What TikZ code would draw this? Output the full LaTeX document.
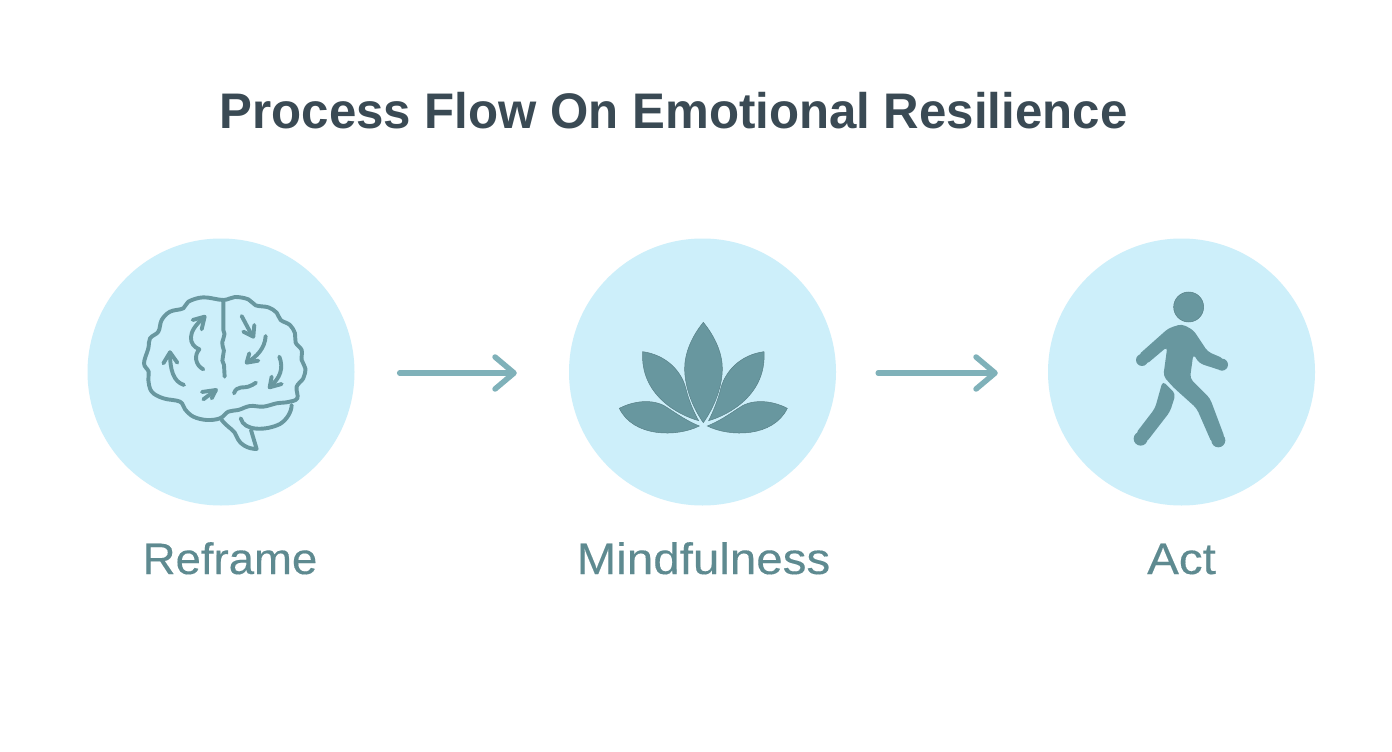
\documentclass[tikz,border=0pt]{standalone}
\usepackage{fontspec}
\setmainfont{Liberation Sans}
\newfontfamily\labelfont[FakeStretch=1.08,FakeBold=0.25]{Liberation Sans}
\newfontfamily\labelfontnarrow[FakeStretch=1.035,FakeBold=0.25]{Liberation Sans}
\newfontfamily\titlefont[FakeStretch=0.984]{Liberation Sans Bold}
\usetikzlibrary{arrows.meta}
\definecolor{disc}{HTML}{CDEFFA}
\definecolor{icon}{HTML}{68979F}
\definecolor{flow}{HTML}{7FB1B9}
\definecolor{titlec}{HTML}{3A4A54}
\definecolor{labelc}{HTML}{5E8A90}
\tikzset{
  disc/.style={circle,fill=disc,draw=none,minimum size=267pt,inner sep=0pt},
  flowarrow/.style={draw=flow,line width=5.5pt,line cap=round,line join=round,-{Straight Barb[length=19pt,width=32pt,line width=5.5pt,round]}},
  steplabel/.style={text=labelc,font=\labelfont\fontsize{44}{44}\selectfont,anchor=base},
  brainline/.style={draw=icon,line width=3.9pt,line cap=round,line join=round},
  iconfill/.style={fill=icon,draw=icon!85!black,line width=.5pt},
  walkerbody/.style={fill=icon,rounded corners=4pt}
}
\begin{document}
\begin{tikzpicture}[x=1pt,y=-1pt]
\useasboundingbox (0,0) rectangle (1392,752);
\fill[white] (0,0) rectangle (1392,752);
\node[anchor=base,text=titlec,font=\titlefont\fontsize{50}{50}\selectfont] (title) at (673.5,128) {Process Flow On Emotional Resilience};
\node[disc] (c1) at (221,372) {};
\node[disc] (c2) at (702.5,372) {};
\node[disc] (c3) at (1181.5,372) {};
\draw[flowarrow,shorten <=45pt,shorten >=52pt] (c1.east |- 0,373) coordinate (s1) (s1) -- (c2.west |- s1);
\draw[flowarrow,shorten <=42pt,shorten >=50pt] (c2.east |- 0,373) coordinate (s2) (s2) -- (c3.west |- s2);
\node[steplabel,font=\labelfontnarrow\fontsize{44}{44}\selectfont] (l1) at (230,574) {Reframe};
\node[steplabel] (l2) at (703.5,574) {Mindfulness};
\node[steplabel] (l3) at (1181.5,574) {Act};
% brain
\begin{scope}[shift={(120,270)},x=.3333pt,y=-.3333pt]
\draw[brainline] plot[smooth cycle,tension=.6] coordinates {
 (310,90)(345,81)(385,88)(407,106)(445,112)(470,128)(482,150)(510,165)(525,190)(527,218)(545,240)(545,270)(556,295)(550,325)(530,350)(532,385)(505,396)(470,400)(430,410)(390,408)(355,420)(325,425)(300,445)(260,450)(220,440)(195,418)(180,395)(130,385)(95,365)(85,330)(86,305)(72,280)(85,235)(90,205)(115,185)(125,150)(150,125)(190,115)(205,95)(250,82)};
\draw[brainline] (310,92) -- (310,180) .. controls (322,195) and (300,215) .. (308,228) .. controls (320,245) and (298,270) .. (312,285) -- (314,320);
\draw[brainline] (362,445) .. controls (372,485) and (440,482) .. (480,462) .. controls (500,450) and (515,425) .. (515,405);
\draw[brainline] (305,450) .. controls (325,475) and (345,480) .. (350,500) .. controls (360,525) and (385,537) .. (410,537) -- (393,480);
\draw[brainline] (192,345) .. controls (160,335) and (150,300) .. (150,247);
\draw[brainline] (130,280) -- (150,247) -- (172,278);
\draw[brainline] (250,298) .. controls (225,285) and (222,255) .. (238,238) .. controls (205,225) and (200,185) .. (250,145);
\draw[brainline] (218,150) -- (254,140) -- (245,178);
\draw[brainline] (365,138) -- (398,200);
\draw[brainline] (370,185) -- (400,200) -- (403,165);
\draw[brainline] (437,198) .. controls (435,235) and (410,260) .. (382,277);
\draw[brainline] (388,250) -- (380,278) -- (415,272);
\draw[brainline] (478,260) .. controls (492,295) and (480,325) .. (450,350);
\draw[brainline] (455,320) -- (449,352) -- (485,342);
\draw[brainline] (250,388) -- (288,360);
\draw[brainline] (246,366) -- (288,360) -- (275,385);
\draw[brainline] (342,370) .. controls (350,345) and (375,355) .. (385,350) .. controls (395,345) and (400,345) .. (408,338);
\end{scope}
% lotus
\begin{scope}[shift={(600,300)},x=.3333pt,y=-.3333pt]
\fill[iconfill] (310,67) .. controls (345,110) and (367,160) .. (367,205) .. controls (367,265) and (340,325) .. (310,368) .. controls (280,325) and (254,265) .. (254,205) .. controls (254,160) and (275,110) .. (310,67) -- cycle;
\fill[iconfill] (128,155) .. controls (200,165) and (248,215) .. (260,275) .. controls (270,310) and (283,340) .. (296,362) .. controls (235,345) and (120,285) .. (128,155) -- cycle;
\fill[iconfill] (492,155) .. controls (420,165) and (372,215) .. (360,275) .. controls (350,310) and (337,340) .. (326,362) .. controls (385,345) and (500,285) .. (492,155) -- cycle;
\fill[iconfill] (58,325) .. controls (110,298) and (170,298) .. (205,325) .. controls (235,345) and (265,365) .. (298,378) .. controls (230,412) and (100,412) .. (58,325) -- cycle;
\fill[iconfill] (562,325) .. controls (510,298) and (450,298) .. (415,325) .. controls (385,345) and (355,365) .. (322,378) .. controls (390,412) and (520,412) .. (562,325) -- cycle;
\end{scope}
% walker
\begin{scope}[shift={(1110,280)},x=.3333pt,y=-.3333pt]
\fill[iconfill] (236,81) circle[radius=15pt];
\fill[walkerbody] (158,303) -- (197,342) -- (180,395) -- (108,488) -- (76,462) -- (135,385) -- cycle;
\fill[icon] (92,476) circle[radius=7pt];
\fill[walkerbody] (215,132) -- (250,150) -- (293,215) -- (342,236) -- (335,272) -- (268,250) -- (250,222) -- (240,295) -- (300,355) -- (345,475) -- (306,490) -- (260,385) -- (190,322) -- (160,288) -- (172,200) -- (108,254) -- (84,226) -- (175,145) -- cycle;
\fill[icon] (336,254) circle[radius=6pt] (96,240) circle[radius=6pt] (325,481) circle[radius=7pt];
\end{scope}
\end{tikzpicture}
\end{document}
